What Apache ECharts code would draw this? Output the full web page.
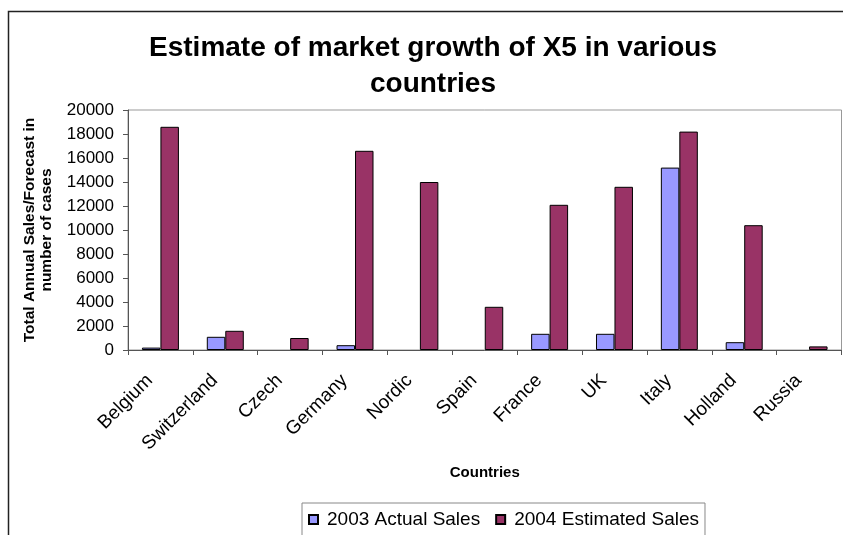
<!DOCTYPE html>
<html>
<head>
<meta charset="utf-8">
<script src="https://cdn.jsdelivr.net/npm/echarts@6/dist/echarts.min.js"></script>
<style>
html,body{margin:0;padding:0;background:#fff;}
#chart{width:843px;height:535px;}
</style>
</head>
<body>
<div id="chart"></div>
<script>
const categories = ['Belgium','Switzerland','Czech','Germany','Nordic','Spain','France','UK','Italy','Holland','Russia'];
const actual2003 = [200, 1100, 0, 400, 0, 0, 1350, 1350, 15200, 650, 0];
const estimated2004 = [18600, 1600, 1000, 16600, 14000, 3600, 12100, 13600, 18200, 10400, 300];
const seriesNames = ['2003 Actual Sales', '2004 Estimated Sales'];
const yTicks = {min: 0, max: 20000, interval: 2000};

const FONT = "'Liberation Sans', Arial, sans-serif";
// zero values are not drawn as visible bars in the reference
const asBars = arr => arr.map(v => (v === 0 ? null : v));

const chart = echarts.init(document.getElementById('chart'), null, {renderer: 'canvas'});
chart.setOption({
  animation: false,
  backgroundColor: '#fff',
  textStyle: {fontFamily: FONT},
  graphic: [{
    type: 'rect', silent: true, z: -1,
    shape: {x: 8.5, y: 11.5, width: 900, height: 600},
    style: {fill: 'none', stroke: '#222', lineWidth: 1.5}
  }],
  title: {
    text: 'Estimate of market growth of X5 in various\ncountries',
    left: 433, top: 30, textAlign: 'center', padding: 0,
    textStyle: {fontFamily: FONT, fontSize: 28, fontWeight: 'bold', color: '#000', lineHeight: 36}
  },
  legend: {
    left: 302, top: 503,
    borderColor: '#888', borderWidth: 1,
    padding: [7, 6, 20, 6],
    icon: 'rect',
    itemWidth: 9, itemHeight: 9, itemGap: 15,
    textStyle: {fontFamily: FONT, fontSize: 19, color: '#000', padding: [0, 0, 0, 4]},
    data: seriesNames
  },
  grid: {
    left: 128, top: 110, right: 1.5, bottom: 185,
    show: true, borderColor: '#999', borderWidth: 1, backgroundColor: 'transparent'
  },
  xAxis: {
    type: 'category', data: categories,
    name: 'Countries', nameLocation: 'middle', nameGap: 115,
    nameTextStyle: {fontFamily: FONT, fontSize: 15, fontWeight: 'bold', color: '#000'},
    axisLine: {lineStyle: {color: '#555', width: 1}},
    axisTick: {show: true, length: 5, lineStyle: {color: '#555'}},
    axisLabel: {rotate: 45, interval: 0, fontSize: 19, color: '#000', margin: 17, padding: [0, 15, 0, 0], fontFamily: FONT}
  },
  yAxis: {
    type: 'value', min: yTicks.min, max: yTicks.max, interval: yTicks.interval,
    name: 'Total Annual Sales/Forecast in\nnumber of cases', nameLocation: 'middle', nameGap: 73,
    nameTextStyle: {fontFamily: FONT, fontSize: 15.5, fontWeight: 'bold', color: '#000', lineHeight: 17, align: 'center'},
    axisLine: {show: true, lineStyle: {color: '#555', width: 1}},
    axisTick: {show: true, length: 5, lineStyle: {color: '#555'}},
    splitLine: {show: false},
    axisLabel: {fontSize: 17, color: '#000', margin: 14, fontFamily: FONT, formatter: v => String(v)}
  },
  series: [{
    name: seriesNames[0], type: 'bar', data: asBars(actual2003),
    barGap: '0%', barCategoryGap: '43%',
    itemStyle: {color: '#9999FF', borderColor: '#000', borderWidth: 1}
  }, {
    name: seriesNames[1], type: 'bar', data: asBars(estimated2004),
    barGap: '0%', barCategoryGap: '43%',
    itemStyle: {color: '#993366', borderColor: '#000', borderWidth: 1}
  }]
});
</script>
</body>
</html>
